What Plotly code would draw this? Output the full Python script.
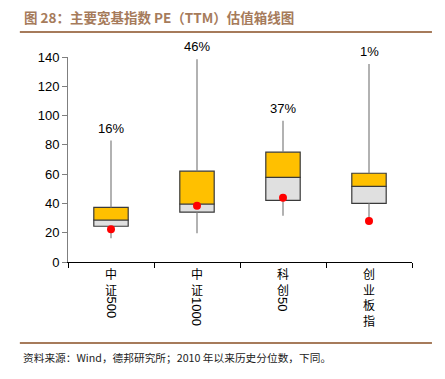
import plotly.graph_objects as go

categories_cjk = ["中<br>证", "中<br>证", "科<br>创", "创<br>业<br>板<br>指"]
categories_num = ["500", "1000", "50", ""]
min_vals = [16.2, 19.6, 31.6, 28.0]
q1_vals = [24.4, 34.0, 42.1, 40.1]
median_vals = [28.7, 39.6, 57.8, 51.7]
q3_vals = [37.3, 62.0, 75.0, 60.6]
max_vals = [82.9, 138.5, 96.5, 135.2]
current_vals = [22.3, 38.5, 43.9, 28.0]
pct_labels = ["16%", "46%", "37%", "1%"]
y_ticks = [0, 20, 40, 60, 80, 100, 120, 140]

xs = list(range(len(categories_cjk)))

fig = go.Figure()

# whiskers
wx, wy = [], []
for i in xs:
    wx += [i, i, None, i, i, None]
    wy += [q3_vals[i], max_vals[i], None, min_vals[i], q1_vals[i], None]
fig.add_trace(go.Scatter(x=wx, y=wy, mode="lines", line=dict(color="#7f7f7f", width=1.2),
                         hoverinfo="skip", showlegend=False))

# lower half of box
fig.add_trace(go.Bar(x=xs, base=q1_vals, y=[m - q for m, q in zip(median_vals, q1_vals)],
                     width=0.4, marker=dict(color="#E0E0E0", line=dict(color="#3a3a3a", width=1.2)),
                     showlegend=False))
# upper half of box
fig.add_trace(go.Bar(x=xs, base=median_vals, y=[q - m for q, m in zip(q3_vals, median_vals)],
                     width=0.4, marker=dict(color="#FFC000", line=dict(color="#3a3a3a", width=1.2)),
                     showlegend=False))

# current value dots
fig.add_trace(go.Scatter(x=xs, y=current_vals, mode="markers",
                         marker=dict(color="#FF0000", size=8), showlegend=False))

annotations = []
for i in xs:
    annotations.append(dict(x=i, y=max_vals[i], xref="x", yref="y", text=pct_labels[i],
                            showarrow=False, yanchor="bottom", yshift=3,
                            font=dict(size=13, color="#000000", family="Liberation Sans, Arial")))
    annotations.append(dict(x=i, y=0, xref="x", yref="paper", text=categories_cjk[i],
                            showarrow=False, yanchor="top", yshift=-1,
                            font=dict(size=12, color="#000000", family="Noto Sans CJK SC")))
    if categories_num[i]:
        n = len(categories_num[i])
        annotations.append(dict(x=i, y=0, xref="x", yref="paper", text=categories_num[i],
                                showarrow=False, textangle=90, yanchor="middle", xanchor="center",
                                yshift=-(35 + n * 3.5),
                                font=dict(size=13, color="#000000", family="Liberation Sans, Arial")))

# title and footer
annotations.append(dict(x=-0.134, y=(262 - 17) / 205, xref="paper", yref="paper",
                        text="<b>图 28：主要宽基指数 PE（TTM）估值箱线图</b>", showarrow=False,
                        xanchor="left", yanchor="middle",
                        font=dict(size=13.5, color="#A67B5B", family="Noto Sans CJK SC")))
annotations.append(dict(x=-0.137, y=(262 - 357) / 205, xref="paper", yref="paper",
                        text="资料来源：Wind，德邦研究所；2010 年以来历史分位数，下同。", showarrow=False,
                        xanchor="left", yanchor="middle",
                        font=dict(size=10.7, color="#222222", family="Noto Sans CJK SC")))

shapes = [
    dict(type="line", xref="paper", yref="paper", x0=-0.14, x1=1.058,
         y0=(262 - 32) / 205, y1=(262 - 32) / 205, line=dict(color="#A67B5B", width=2)),
    dict(type="line", xref="paper", yref="paper", x0=-0.14, x1=1.058,
         y0=(262 - 343) / 205, y1=(262 - 343) / 205, line=dict(color="#A67B5B", width=2)),
]

fig.update_layout(
    width=437, height=371,
    margin=dict(l=60, r=33, t=49, b=117),
    paper_bgcolor="white", plot_bgcolor="white",
    barmode="overlay",
    annotations=annotations, shapes=shapes,
    font=dict(family="Liberation Sans, Arial", size=13, color="#000000"),
    xaxis=dict(range=[-0.5, 3.5], showgrid=False, zeroline=False, showline=True,
               linecolor="#000000", linewidth=1, tickvals=[-0.5, 0.5, 1.5, 2.5, 3.5],
               ticktext=["", "", "", "", ""], ticks="outside", ticklen=5, tickcolor="#000000",
               fixedrange=True, automargin=False),
    yaxis=dict(range=[0, 140], tickvals=y_ticks, showgrid=False, zeroline=False,
               showline=True, linecolor="#7f7f7f", linewidth=1, ticks="outside", ticklen=5,
               tickcolor="#7f7f7f", tickfont=dict(size=13, color="#000000"), fixedrange=True,
               automargin=False),
)

fig.write_html("out.html")
